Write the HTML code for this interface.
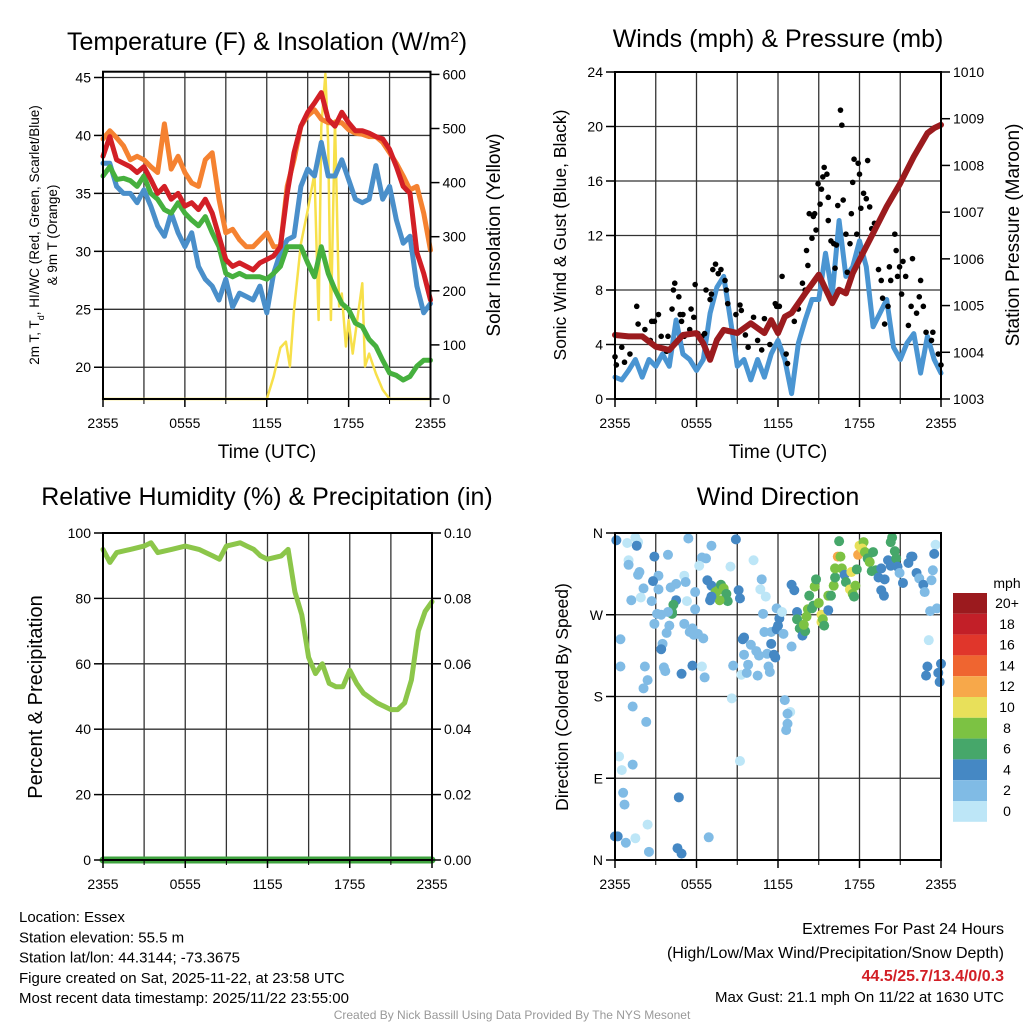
<!DOCTYPE html>
<html><head><meta charset="utf-8"><style>
body{margin:0;background:#fff;}
svg{display:block;font-family:"Liberation Sans",Arial,sans-serif;}
</style></head><body>
<svg id="chart" width="1024" height="1024" viewBox="0 0 1024 1024">
<rect width="1024" height="1024" fill="#fff"/>
</svg>
<script>
const hours = [0,0.5,1,1.5,2,2.5,3,3.5,4,4.5,5,5.5,6,6.5,7,7.5,8,8.5,9,9.5,10,10.5,11,11.5,12,12.5,13,13.5,14,14.5,15,15.5,16,16.5,17,17.5,18,18.5,19,19.5,20,20.5,21,21.5,22,22.5,23,23.5,24];
const xTickLabels = ["2355","0555","1155","1755","2355"];
const tempRed = [38.2,39.9,37.9,37.6,37.3,36.8,37.3,36.2,35.0,35.6,34.5,35.0,33.9,34.2,33.6,34.5,33.3,31.3,29.3,28.7,29.0,28.7,28.4,29.0,29.3,29.6,30.4,35.0,38.5,40.8,42.0,42.8,43.7,41.4,40.8,42.0,41.1,40.4,40.4,40.2,39.9,39.7,38.8,37.3,35.6,35.0,29.9,28.1,25.8];
const tempOrange = [39.7,40.4,39.8,39.1,37.9,38.2,37.9,37.3,36.8,41.0,37.1,38.2,36.8,35.9,35.6,37.9,38.5,34.5,31.6,31.9,31.0,30.4,30.4,31.0,31.6,30.4,30.4,35.6,37.9,40.8,41.7,42.2,41.4,41.1,41.1,41.1,40.5,40.2,40.1,39.9,39.9,39.4,38.5,37.6,36.5,35.3,35.6,33.3,30.1];
const tempGreen = [36.5,37.3,36.2,36.3,36.1,35.6,36.5,35.0,34.5,33.6,33.3,34.2,33.3,32.7,32.2,33.0,31.6,30.4,28.1,27.8,28.1,27.8,27.8,27.8,27.6,28.1,28.7,30.4,30.4,30.4,29.0,27.8,30.4,28.1,26.7,25.5,25.0,23.8,23.5,22.4,21.8,20.6,19.5,19.3,18.9,19.2,20.1,20.6,20.6];
const tempBlue = [37.6,37.6,35.6,35.0,35.0,34.2,35.3,33.9,32.2,31.3,33.3,31.6,30.4,31.6,28.7,27.6,27.0,25.8,27.6,25.2,26.4,26.1,25.8,27.0,24.7,28.1,29.9,31.0,31.3,35.6,37.1,36.5,39.4,36.5,36.5,37.9,36.2,34.5,34.2,34.5,37.4,34.5,35.6,32.7,30.7,31.3,27.0,24.7,25.5];
const solarTimes = [0,12,12.5,13,13.4,13.7,14,14.5,15,15.5,15.8,16,16.3,16.5,16.7,17,17.3,17.5,17.8,18,18.3,18.5,19,19.2,19.5,20,20.5,21,24];
const solarVals = [0,0,41,95,106,60,164,287,349,417,146,503,601,472,146,515,171,195,97,146,84,121,214,60,84,47,17,0,0];
const windSonic = [1.6,1.4,2.1,2.9,1.6,2.9,2.4,3.3,2.4,5.8,3.3,2.9,2.1,2.9,6.3,8.2,9.0,5.8,2.4,2.9,1.4,2.9,1.6,3.3,4.3,2.9,0.4,4.1,5.8,7.3,7.3,10.7,7.7,13.1,9.0,9.7,11.6,9.7,5.3,6.3,7.3,3.8,2.9,4.1,4.8,1.9,4.6,2.9,1.9];
const pressTimes = [0,1,2,3,4,5,6,6.5,7,7.5,8,9,10,11,11.5,12,12.5,13,14,15,16,16.5,17,17.5,18,19,20,21,22,23,23.5,24];
const pressVals = [1004.37,1004.34,1004.34,1004.12,1004.05,1004.37,1004.41,1004.19,1003.84,1004.26,1004.48,1004.41,1004.62,1004.41,1004.69,1004.41,1004.76,1004.84,1005.26,1005.66,1005.05,1005.34,1005.26,1005.69,1005.98,1006.55,1007.12,1007.62,1008.19,1008.69,1008.8,1008.87];
const gustTimes = [0.0,0.1,0.5,0.7,1.1,1.6,1.7,2.2,2.7,2.9,2.6,3.2,3.4,3.8,3.9,4.2,4.3,4.4,4.7,4.8,4.9,5.0,5.1,5.5,5.6,5.8,5.9,6.1,6.4,6.6,6.7,7.0,7.1,7.2,7.4,7.6,7.8,8.1,8.2,8.3,8.9,9.2,9.3,9.6,9.8,10.2,10.5,10.8,11.0,11.4,11.8,11.9,12.1,12.3,12.6,12.7,13.2,13.5,13.8,14.0,14.1,14.2,14.3,14.5,14.6,14.7,14.8,14.95,15.1,15.2,15.3,15.4,15.6,15.7,15.7,15.9,16.1,16.2,16.3,16.4,16.6,16.7,16.8,17.0,17.1,17.3,17.4,17.5,17.6,17.8,17.9,18.0,18.1,18.3,18.5,18.6,18.75,18.9,19.1,19.4,19.6,19.7,19.85,20.1,20.2,20.3,20.6,20.7,20.8,20.95,21.1,21.2,21.4,21.6,21.8,21.9,22.2,22.4,22.5,22.7,22.9,23.3,23.4,23.8,24.0];
const gustVals = [3.1,2.5,3.8,2.7,3.3,6.8,5.5,5.1,5.7,5.7,4.3,6.2,4.6,3.5,4.6,6.6,8.0,8.5,7.5,6.2,5.7,6.2,4.6,5.1,6.6,6.0,8.4,4.8,4.6,4.8,8.0,7.3,7.7,9.5,9.9,9.2,9.5,8.7,8.0,7.0,6.2,6.9,6.5,4.7,3.8,6.0,4.3,3.6,5.9,4.0,7.0,6.8,6.8,9.0,3.3,2.6,5.7,6.6,8.5,8.0,10.9,9.8,13.6,11.8,13.4,13.6,12.4,15.8,14.3,15.4,16.3,17.0,16.5,14.8,13.1,11.6,11.4,9.6,11.3,14.2,21.2,20.1,14.6,12.1,9.3,11.4,13.6,15.9,17.6,12.1,17.3,16.5,14.0,15.1,14.7,17.5,14.1,12.5,12.9,9.5,8.7,7.4,5.5,6.8,9.7,8.7,12.1,10.9,9.0,9.7,7.7,10.1,9.0,5.4,6.8,10.3,6.3,7.5,8.7,6.8,4.9,4.3,4.9,3.3,2.5];
const rhTimes = [0,0.5,1,2,3,3.5,4,5,6,7,7.5,8,8.5,9,10,10.5,11,11.5,12,13,13.5,14,14.5,15,15.5,16,16.5,17,17.5,18,18.5,19,20,20.5,21,21.5,22,22.5,23,23.5,24];
const rhVals = [95,91,94,95,96,97,94,95,96,95,94,93,92,96,97,96,95,93,92,93,95,82,75,62,57,60,54,53,53,58,54,51,48,47,46,46,48,55,70,76,79];
const precipVals = [0,0];
const dirTimes = [0.1,0.9,1.5,1.7,1.6,1.0,1.0,2.9,3.9,5.4,7.1,8.9,6.4,6.7,6.2,8.5,10.2,1.7,1.8,3.2,2.8,5.1,5.2,4.5,4.1,3.2,2.1,1.2,1.9,2.7,4.5,4.3,4.2,4.2,3.1,3.4,3.9,5.3,5.9,5.9,6.8,7.1,7.4,7.6,7.8,8.0,8.2,8.3,7.7,7.1,9.1,9.2,7.0,10.8,10.7,11.1,10.9,5.1,4.0,3.8,3.5,3.4,2.9,0.4,0.4,2.2,2.4,2.1,1.3,2.3,0.3,0.5,1.3,0.6,0.7,0.0,0.2,0.8,1.5,2.4,2.5,4.7,4.6,4.9,6.9,9.2,8.6,12.5,12.9,12.7,12.7,12.6,4.9,5.7,6.4,6.6,3.7,3.6,5.5,5.7,5.8,6.5,6.1,8.7,9.3,9.7,9.5,9.4,9.5,10.0,9.8,10.4,10.6,10.5,11.3,11.4,11.2,11.0,11.5,11.7,11.8,11.5,11.9,12.0,12.1,11.9,12.3,12.4,13.0,13.0,13.2,13.4,13.4,13.6,13.8,14.0,13.9,14.1,14.2,14.3,14.5,14.6,14.7,14.8,15.0,15.2,15.2,15.3,15.4,15.7,15.7,15.9,16.1,16.2,16.2,16.4,16.5,16.6,16.7,16.9,17.0,17.3,17.4,17.5,17.6,17.7,17.8,17.9,18.0,18.3,18.2,18.4,18.6,18.75,19.0,18.9,19.2,19.4,19.6,19.6,19.8,19.85,20.1,20.3,20.4,20.3,20.6,20.7,20.8,20.95,21.2,21.6,21.8,21.9,22.2,22.4,22.7,22.8,23.4,23.3,23.6,23.5,23.7,23.2,23.1,23.0,22.9,23.8,24.0,23.9];
const dirVals = [352,349,355,350,346,330,325,334,336,354,346,353,333,332,324,323,330,314,317,313,307,313,306,304,300,298,299,286,289,285,286,281,273,271,271,270,273,285,295,276,308,302,295,297,303,299,293,285,286,290,297,288,286,309,298,290,271,260,258,250,238,232,260,243,213,213,198,189,169,152,114,99,105,74,61,26,26,19,24,39,9,69,13,7,25,109,178,176,163,161,150,143,205,214,213,201,208,212,251,255,248,244,249,214,204,206,226,243,245,237,215,230,225,203,213,207,227,251,251,226,223,238,254,258,266,277,273,249,235,303,297,273,265,255,247,252,259,268,276,291,277,280,301,309,283,270,262,265,258,275,291,291,302,311,321,334,351,334,321,314,306,298,317,293,290,302,320,336,346,350,343,339,332,328,339,318,319,311,321,297,291,309,330,324,355,350,340,332,323,316,305,327,334,334,316,310,303,295,319,308,347,337,277,274,242,213,203,206,216,196];
const dirSpeeds = [4,0,0,0,4,0,2,4,2,2,2,4,2,2,0,0,0,2,2,2,4,0,2,2,2,2,2,2,0,2,4,6,6,6,2,2,2,0,2,2,4,4,8,8,6,8,6,6,8,4,4,4,4,2,0,0,2,2,2,2,2,4,2,2,2,2,2,2,2,2,0,0,2,2,2,4,4,2,0,0,2,4,4,4,2,0,0,2,0,2,2,2,4,4,0,2,2,2,2,2,2,2,2,2,0,2,2,4,4,2,2,2,2,2,2,2,2,2,2,4,4,4,4,4,4,2,0,2,2,4,4,4,6,6,4,6,8,8,8,6,6,6,8,6,8,10,10,8,6,4,8,6,8,6,8,12,6,8,8,4,6,10,10,8,6,8,6,12,10,8,10,8,6,8,6,6,6,4,4,4,4,4,4,4,6,6,6,6,4,2,4,4,4,4,4,2,4,2,2,2,0,4,2,2,0,4,4,4,4,4];
const cbLabels = ["20+","18","16","14","12","10","8","6","4","2","0"];
const cbColors = ["#9b1a1e","#c21f28","#e0362b","#ef6530","#f7a84a","#e8e05a","#7cc243","#46a76a","#4588c4","#80bbe5","#bde6f7"];

const NS = "http://www.w3.org/2000/svg";
const svg = document.getElementById('chart');
function el(tag, attrs, parent, text){
  const e = document.createElementNS(NS, tag);
  for (const k in attrs) e.setAttribute(k, attrs[k]);
  if (text !== undefined) e.textContent = text;
  (parent || svg).appendChild(e);
  return e;
}
function panel(x0,x1,y0,y1,ymin,ymax,rmin,rmax){
  return {x0,x1,y0,y1,
    sx: t => x0 + (t/24)*(x1-x0),
    sy: v => y1 - (v-ymin)/(ymax-ymin)*(y1-y0),
    sr: v => y1 - (v-rmin)/(rmax-rmin)*(y1-y0)};
}
function grid(p, gvals, fn, name){
  const g = el('g', {});
  
  
  for (let h=3; h<24; h+=3) el('line',{x1:p.sx(h),x2:p.sx(h),y1:p.y0,y2:p.y1,stroke:'#333','stroke-width':1.3},g);
  gvals.forEach(v=>{ const y=fn(v); el('line',{x1:p.x0,x2:p.x1,y1:y,y2:y,stroke:'#333','stroke-width':1.3},g);});
}
function frame(p, name){
  const r = el('rect',{x:p.x0,y:p.y0,width:p.x1-p.x0,height:p.y1-p.y0,fill:'none',stroke:'#000','stroke-width':2});
  
  
  const g = el('g', {});
  
  
  xTickLabels.forEach((lab,i)=>{
    const x=p.sx(i*6);
    el('line',{x1:x,x2:x,y1:p.y1,y2:p.y1+8,stroke:'#000','stroke-width':1.5},g);
    el('text',{x:x,y:p.y1+29,'text-anchor':'middle','font-size':14},g,lab);
  });
  for (let h=3;h<24;h+=6){ const x=p.sx(h); el('line',{x1:x,x2:x,y1:p.y1,y2:p.y1+5,stroke:'#000','stroke-width':1},g);}
}
function leftTicks(p, vals, labels, fn, name){
  const g = el('g', {});
  
  
  vals.forEach((v,i)=>{ const y=fn(v);
    el('line',{x1:p.x0-9,x2:p.x0,y1:y,y2:y,stroke:'#000','stroke-width':1.5},g);
    el('text',{x:p.x0-12,y:y+5,'text-anchor':'end','font-size':14},g,labels[i]);});
}
function rightTicks(p, vals, labels, fn, name){
  const g = el('g', {});
  
  
  vals.forEach((v,i)=>{ const y=fn(v);
    el('line',{x1:p.x1,x2:p.x1+9,y1:y,y2:y,stroke:'#000','stroke-width':1.5},g);
    el('text',{x:p.x1+12,y:y+5,'text-anchor':'start','font-size':14},g,labels[i]);});
}
function line(ts, vs, p, fn, color, w, name){
  const pts = ts.map((t,i)=>p.sx(t).toFixed(1)+','+fn(vs[i]).toFixed(1)).join(' ');
  const l = el('polyline',{points:pts,fill:'none',stroke:color,'stroke-width':w,'stroke-linejoin':'round','stroke-linecap':'round'});
  
  
}
function title(x,y,txt,name,size){
  const t = el('text',{x:x,y:y,'text-anchor':'middle','font-size':size||25},svg,txt);
  
  
  return t;
}
function vlabel(x,y,txt,name,size){
  const t = el('text',{x:x,y:y,'text-anchor':'middle','font-size':size||19,transform:`rotate(-90 ${x} ${y})`},svg,txt);
  
  
  return t;
}

/* Panel 1 */
const p1 = panel(103,430.5,71.7,399,17.26,45.5,0,605);
grid(p1,[20,25,30,35,40,45],p1.sy,'temp-grid');
line(solarTimes, solarVals, p1, p1.sr, '#f7e04a', 2.5, 'solar-insolation-line');
line(hours, tempBlue, p1, p1.sy, '#4a8fca', 5, 'windchill-line');
line(hours, tempGreen, p1, p1.sy, '#46b03e', 5, 'dewpoint-line');
line(hours, tempOrange, p1, p1.sy, '#f58231', 5, 'temp-9m-line');
line(hours, tempRed, p1, p1.sy, '#d21f26', 5, 'temp-2m-line');
frame(p1,'temp-plot-frame');
leftTicks(p1,[20,25,30,35,40,45],["20","25","30","35","40","45"],p1.sy,'temp-y-ticks');
rightTicks(p1,[0,100,200,300,400,500,600],["0","100","200","300","400","500","600"],p1.sr,'solar-y-ticks');
const t1 = title(267,50,'Temperature (F) & Insolation (W/m','temp-panel-title');
el('tspan',{'baseline-shift':'super','font-size':15},t1,'2');
el('tspan',{},t1,')');
const yl1 = vlabel(39,235,'2m T, T','temp-y-title-line1',13.5);
el('tspan',{'baseline-shift':'sub','font-size':9},yl1,'d');
el('tspan',{},yl1,', HI/WC (Red, Green, Scarlet/Blue)');
vlabel(57,235,'& 9m T (Orange)','temp-y-title-line2',13.5);
vlabel(500,235,'Solar Insolation (Yellow)','solar-y-title');
title(267,458,'Time (UTC)','temp-x-title',19);

/* Panel 2 */
const p2 = panel(615,941,72,399,0,24,1003,1010);
grid(p2,[4,8,12,16,20],p2.sy,'wind-grid');
line(hours, windSonic, p2, p2.sy, '#4a95d2', 5, 'sonic-wind-line');
const gg = el('g',{});


gustTimes.forEach((t,i)=>{ const c = el('circle',{cx:p2.sx(t),cy:p2.sy(gustVals[i]),r:2.8,fill:'#000'},gg);
  
  });
line(pressTimes, pressVals, p2, p2.sr, '#9b1b1e', 6, 'pressure-line');
frame(p2,'wind-plot-frame');
leftTicks(p2,[0,4,8,12,16,20,24],["0","4","8","12","16","20","24"],p2.sy,'wind-y-ticks');
rightTicks(p2,[1003,1004,1005,1006,1007,1008,1009,1010],["1003","1004","1005","1006","1007","1008","1009","1010"],p2.sr,'pressure-y-ticks');
title(778,47,'Winds (mph) & Pressure (mb)','wind-panel-title');
vlabel(566,235,'Sonic Wind & Gust (Blue, Black)','wind-y-title',17.5);
vlabel(1019,235,'Station Pressure (Maroon)','pressure-y-title',19);
title(778,458,'Time (UTC)','wind-x-title',19);

/* Panel 3 */
const p3 = panel(103,432,533,860,0,100,0,0.1);
grid(p3,[20,40,60,80],p3.sy,'rh-grid');
line([0,24], precipVals, p3, p3.sr, '#3fa33f', 7, 'precip-line');
line(rhTimes, rhVals, p3, p3.sy, '#8cc64a', 5, 'rh-line');
frame(p3,'rh-plot-frame');
leftTicks(p3,[0,20,40,60,80,100],["0","20","40","60","80","100"],p3.sy,'rh-y-ticks');
rightTicks(p3,[0,0.02,0.04,0.06,0.08,0.10],["0.00","0.02","0.04","0.06","0.08","0.10"],p3.sr,'precip-y-ticks');
title(267,505,'Relative Humidity (%) & Precipitation (in)','rh-panel-title');
vlabel(42,697,'Percent & Precipitation','rh-y-title',20);

/* Panel 4 */
const p4 = panel(615,941,533,860,0,360,0,1);
grid(p4,[90,180,270],p4.sy,'dir-grid');
function spdColor(s){ const idx = Math.min(10, Math.floor((s||0)/2)); return cbColors[10-idx]; }
const dg = el('g',{});


dirTimes.forEach((t,i)=>{ const c = el('circle',{cx:p4.sx(t),cy:p4.sy(dirVals[i]),r:5,fill:spdColor(dirSpeeds[i])},dg);
  
  });
frame(p4,'dir-plot-frame');
leftTicks(p4,[0,90,180,270,360],["N","E","S","W","N"],p4.sy,'dir-y-ticks');
title(778,505,'Wind Direction','dir-panel-title');
vlabel(568,697,'Direction (Colored By Speed)','dir-y-title',17.5);

/* colorbar */
const cg = el('g',{});


el('text',{x:1007,y:588,'text-anchor':'middle','font-size':14},cg,'mph');
cbLabels.forEach((lab,i)=>{
  const y = 593 + i*20.8;
  el('rect',{x:953,y:y,width:34,height:20.8,fill:cbColors[i]},cg);
  el('text',{x:1007,y:y+15,'text-anchor':'middle','font-size':14},cg,lab);
});

/* footer text */
const info = ["Location: Essex","Station elevation: 55.5 m","Station lat/lon: 44.3144; -73.3675","Figure created on Sat, 2025-11-22, at 23:58 UTC","Most recent data timestamp: 2025/11/22 23:55:00"];
info.forEach((s,i)=>{ const t=el('text',{x:19,y:922+i*20.3,'font-size':15},svg,s);
  
  });
const r1 = el('text',{x:1004,y:934,'text-anchor':'end','font-size':16},svg,'Extremes For Past 24 Hours');


const r2 = el('text',{x:1004,y:958,'text-anchor':'end','font-size':16},svg,'(High/Low/Max Wind/Precipitation/Snow Depth)');


const r3 = el('text',{x:1004,y:981,'text-anchor':'end','font-size':16,'font-weight':'bold',fill:'#d21f26'},svg,'44.5/25.7/13.4/0/0.3');


const r4 = el('text',{x:1004,y:1002,'text-anchor':'end','font-size':15},svg,'Max Gust: 21.1 mph On 11/22 at 1630 UTC');


const cr = el('text',{x:512,y:1019,'text-anchor':'middle','font-size':12,fill:'#999'},svg,'Created By Nick Bassill Using Data Provided By The NYS Mesonet');


</script>
</body></html>
